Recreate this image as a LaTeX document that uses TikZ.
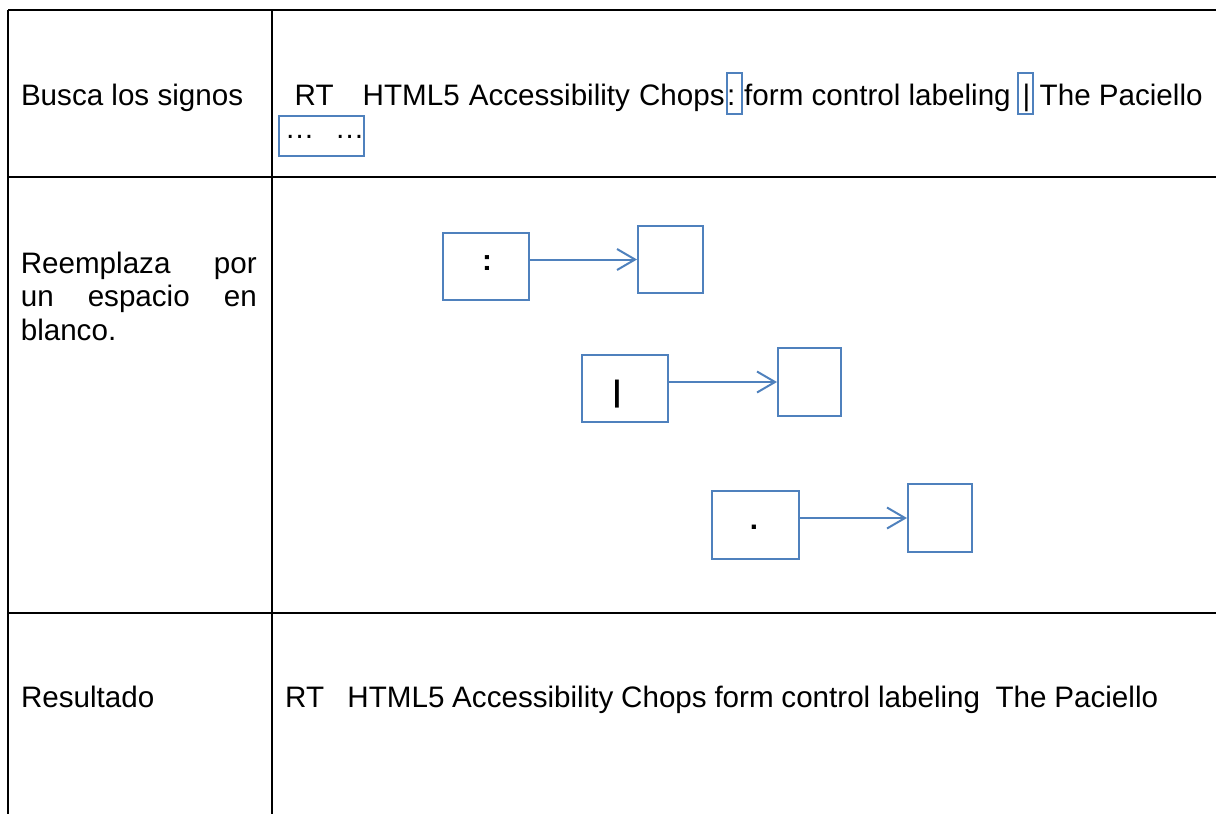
\documentclass[tikz,border=0pt]{standalone}
\usepackage{fontspec}
\setmainfont{Liberation Sans}
\usetikzlibrary{arrows.meta}
\definecolor{boxblue}{HTML}{4F81BD}
\begin{document}
\begin{tikzpicture}[x=1pt,y=-1pt,
  grid/.style={line width=1.7pt,black},
  txt/.style={anchor=base west,inner sep=0pt,font=\fontsize{29.6pt}{33.6pt}\selectfont},
  sym/.style={anchor=base,inner sep=0pt,font=\fontsize{29.6pt}{33.6pt}\selectfont\bfseries},
  hl/.style={draw=boxblue,line width=2pt,inner sep=0pt},
  bluebox/.style={draw=boxblue,line width=2pt,inner sep=0pt,minimum width=#1},
  arr/.style={draw=boxblue,line width=2pt,-{Straight Barb[length=18pt,width=21pt]}}
]
\useasboundingbox (0,0) rectangle (1216,814);
% table rules
\draw[grid] (8,10) -- (1216,10);
\draw[grid] (8,177) -- (1216,177);
\draw[grid] (8,613) -- (1216,613);
\draw[grid] (8,10) -- (8,814);
\draw[grid] (272,10) -- (272,814);

% row 1
\node[txt] (l1) at (20.8,105) {Busca los signos};
\node[txt] (r1a) at (294.5,105) {RT};
\node[txt] (r1b) at (362.5,105) {\makebox[362pt][s]{HTML5 Accessibility Chops}};
\node[txt] (r1c) at (727,105) {:};
\node[txt] (r1d) at (744,105) {form control labeling};
\node[txt] (r1e) at (1022.5,105) {|};
\node[txt] (r1f) at (1039.5,105) {The Paciello};
\node[txt] (r1g) at (284.6,138.6) {…\hspace{20.4pt}…};
\draw[hl] (727,73) rectangle (742,114);
\draw[hl] (1018,73) rectangle (1033,114);
\draw[hl] (279,116) rectangle (364,156);

% row 2
\node[txt,align=left] (l2) at (20.6,340.2) {\makebox[236pt][s]{Reemplaza por}\\\makebox[236pt][s]{un espacio en}\\blanco.};

\node[bluebox=86pt,minimum height=67pt] (b1) at (486,266.5) {};
\node[bluebox=65pt,minimum height=67pt] (t1) at (670.5,259.5) {};
\node[sym] (s1) at (487,270) {:};
\draw[arr] (b1.east |- t1.west) -- (t1.west);

\node[bluebox=86pt,minimum height=67pt] (b2) at (625,388.5) {};
\node[bluebox=63pt,minimum height=68pt] (t2) at (809.5,382) {};
\node[sym] (s2) at (617,401) {|};
\draw[arr] (b2.east |- t2.west) -- (t2.west);

\node[bluebox=87pt,minimum height=68pt] (b3) at (755.5,525) {};
\node[bluebox=64pt,minimum height=68pt] (t3) at (940,518) {};
\node[sym] (s3) at (754,529) {.};
\draw[arr] (b3.east |- t3.west) -- (t3.west);

% row 3
\node[txt] (l3) at (20.8,707) {Resultado};
\node[txt] (r3) at (285,707) {\makebox[873pt][s]{RT\ \ \ HTML5 Accessibility Chops form control labeling\ \ The Paciello}};
\end{tikzpicture}
\end{document}
